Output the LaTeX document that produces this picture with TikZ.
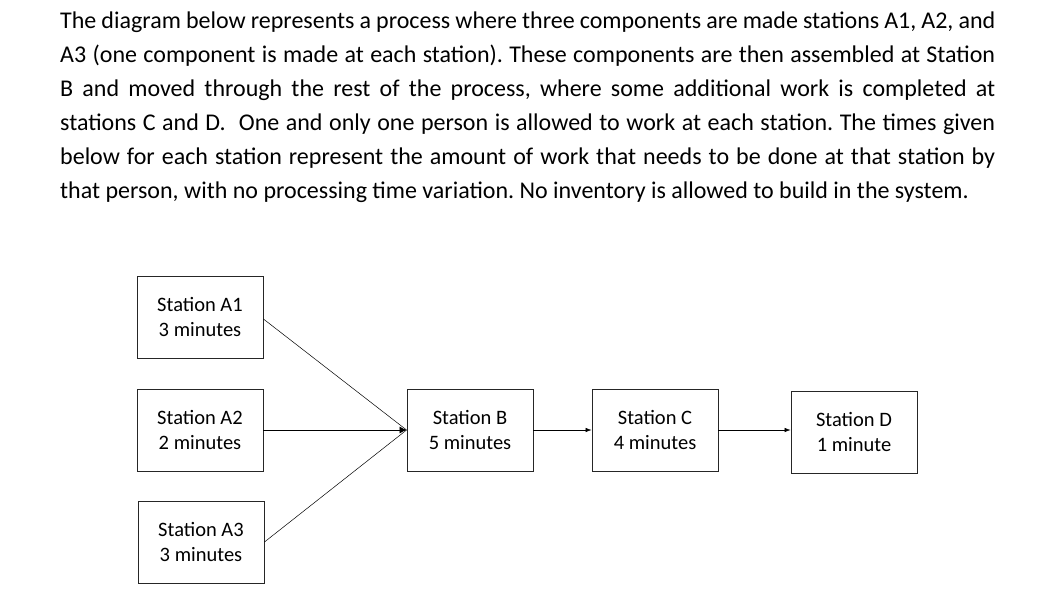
\documentclass[tikz,border=0pt]{standalone}
\usepackage{fontspec}
\setmainfont{Carlito}
\usetikzlibrary{arrows.meta,positioning,calc}

\begin{document}
\begin{tikzpicture}[
  x=1pt, y=-1pt,
  station/.style={draw=black!85, line width=0.9pt, minimum width=126pt,
                  minimum height=82pt, inner sep=0pt, align=center,
                  font=\fontsize{20.5}{25}\selectfont},
  arr/.style={-{Latex[length=6pt,width=4.5pt]}, line width=0.6pt},
  mergearr/.style={-{Latex[length=7pt,width=7pt]}, line width=0.6pt},
  feed/.style={line width=0.5pt},
]
\useasboundingbox (0,0) rectangle (1049,608);

\node[anchor=north west, inner sep=0pt, text width=935pt, align=justify,
      font=\fontsize{24}{34}\selectfont\frenchspacing] (intro) at (60,12)
  {The diagram below represents a process where three components are made stations A1, A2, and\linebreak
   A3 (one component is made at each station). These components are then assembled at Station\linebreak
   B and moved through the rest of the process, where some additional work is completed at\linebreak
   stations C and D.\ \ One and only one person is allowed to work at each station. The times given\linebreak
   below for each station represent the amount of work that needs to be done at that station by\linebreak
   that person, with no processing time variation. No inventory is allowed to build in the system.};

\node[station] (a1) at (200,317) {Station A1\\3 minutes};
\node[station] (a2) at (200,430) {Station A2\\2 minutes};
\node[station] (a3) at (201,542) {Station A3\\3 minutes};
\node[station] (b) at (470,430) {Station B\\5 minutes};
\node[station] (c) at (655,430) {Station C\\4 minutes};
\node[station] (d) at (854,432) {Station D\\1 minute};

\draw[feed] ($(a1.east)+(0,2)$) -- (b.west);
\draw[feed] (a3.east) -- (b.west);
\draw[mergearr] (a2.east) -- (b.west);
\draw[arr] (b.east) -- (c.west);
\draw[arr] (c.east) -- (d.west |- c.east);
\end{tikzpicture}
\end{document}
